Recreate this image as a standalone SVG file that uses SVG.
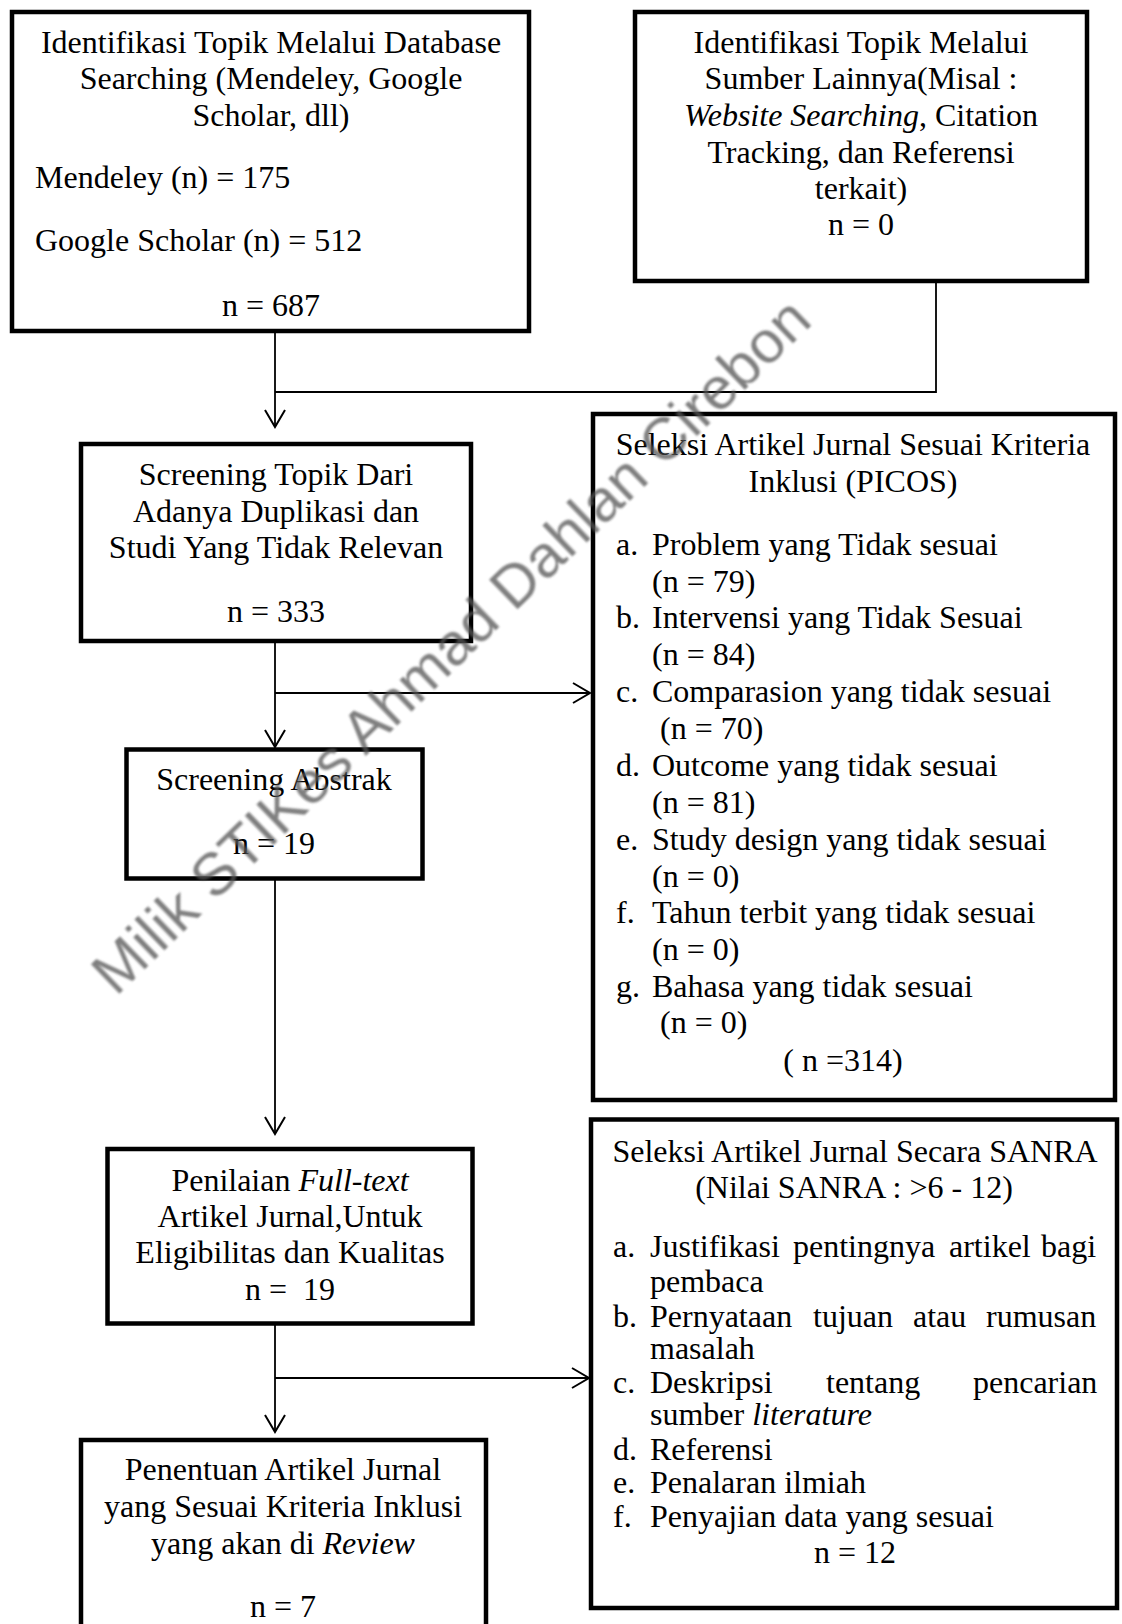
<svg xmlns="http://www.w3.org/2000/svg" width="1122" height="1624" viewBox="0 0 1122 1624">
<defs>
<style>
.box{fill:#fff;stroke:#000;stroke-width:4.5}
.t{font-family:"Liberation Serif","Times New Roman",serif;font-size:32px;fill:#000}
.c{text-anchor:middle}
.conn{fill:none;stroke:#000;stroke-width:1.8}
.wm{font-family:"Liberation Sans",Arial,sans-serif;font-size:60px;fill:#555;opacity:0.75;text-anchor:middle}
</style>
<marker id="arr" viewBox="0 0 20 22" refX="18" refY="11" markerWidth="20" markerHeight="22" markerUnits="userSpaceOnUse" orient="auto">
<path d="M1,1 L18,11 L1,21" fill="none" stroke="#000" stroke-width="2"/>
</marker>
<filter id="soft" x="-5%" y="-5%" width="110%" height="110%"><feGaussianBlur stdDeviation="1.1"/></filter>
</defs>
<rect width="1122" height="1624" fill="#fff"/>

<g id="n1">
<rect class="box" x="12" y="12" width="517" height="319"/>
<text class="t c" x="271" y="53">Identifikasi Topik Melalui Database</text>
<text class="t c" x="271" y="89">Searching (Mendeley, Google</text>
<text class="t c" x="271" y="126">Scholar, dll)</text>
<text class="t" x="35" y="188">Mendeley (n) = 175</text>
<text class="t" x="35" y="251">Google Scholar (n) = 512</text>
<text class="t c" x="271" y="316">n = 687</text>
</g>

<g id="n2">
<rect class="box" x="635" y="12" width="452" height="269"/>
<text class="t c" x="861" y="53">Identifikasi Topik Melalui</text>
<text class="t c" x="861" y="89">Sumber Lainnya(Misal :</text>
<text class="t c" x="861" y="126"><tspan font-style="italic">Website Searching</tspan>, Citation</text>
<text class="t c" x="861" y="163">Tracking, dan Referensi</text>
<text class="t c" x="861" y="199">terkait)</text>
<text class="t c" x="861" y="235">n = 0</text>
</g>

<g id="n3">
<rect class="box" x="81" y="444" width="390" height="197"/>
<text class="t c" x="276" y="485">Screening Topik Dari</text>
<text class="t c" x="276" y="522">Adanya Duplikasi dan</text>
<text class="t c" x="276" y="558">Studi Yang Tidak Relevan</text>
<text class="t c" x="276" y="622">n = 333</text>
</g>

<g id="n4">
<rect class="box" x="593" y="414" width="522" height="686"/>
<text class="t c" x="853" y="455">Seleksi Artikel Jurnal Sesuai Kriteria</text>
<text class="t c" x="853" y="492">Inklusi (PICOS)</text>
<text class="t" x="616" y="555">a.</text><text class="t" x="652" y="555">Problem yang Tidak sesuai</text>
<text class="t" x="652" y="592">(n = 79)</text>
<text class="t" x="616" y="628">b.</text><text class="t" x="652" y="628">Intervensi yang Tidak Sesuai</text>
<text class="t" x="652" y="665">(n = 84)</text>
<text class="t" x="616" y="702">c.</text><text class="t" x="652" y="702">Comparasion yang tidak sesuai</text>
<text class="t" x="660" y="739">(n = 70)</text>
<text class="t" x="616" y="776">d.</text><text class="t" x="652" y="776">Outcome yang tidak sesuai</text>
<text class="t" x="652" y="813">(n = 81)</text>
<text class="t" x="616" y="850">e.</text><text class="t" x="652" y="850">Study design yang tidak sesuai</text>
<text class="t" x="652" y="887">(n = 0)</text>
<text class="t" x="616" y="923">f.</text><text class="t" x="652" y="923">Tahun terbit yang tidak sesuai</text>
<text class="t" x="652" y="960">(n = 0)</text>
<text class="t" x="616" y="997">g.</text><text class="t" x="652" y="997">Bahasa yang tidak sesuai</text>
<text class="t" x="660" y="1033">(n = 0)</text>
<text class="t c" x="843" y="1071">( n =314)</text>
</g>

<g id="n5">
<rect class="box" x="126.5" y="749.5" width="296" height="129"/>
<text class="t c" x="274" y="790">Screening Abstrak</text>
<text class="t c" x="274" y="854">n = 19</text>
</g>

<g id="n6">
<rect class="box" x="107.5" y="1149" width="365" height="174.5"/>
<text class="t c" x="290" y="1191">Penilaian <tspan font-style="italic">Full-text</tspan></text>
<text class="t c" x="290" y="1227">Artikel Jurnal,Untuk</text>
<text class="t c" x="290" y="1263">Eligibilitas dan Kualitas</text>
<text class="t c" x="290" y="1300" xml:space="preserve">n =  19</text>
</g>

<g id="n7">
<rect class="box" x="591" y="1119.5" width="526" height="488.5"/>
<text class="t c" x="855" y="1162">Seleksi Artikel Jurnal Secara SANRA</text>
<text class="t c" x="854" y="1198">(Nilai SANRA : &gt;6 - 12)</text>
<text class="t" x="613" y="1257">a.</text>
<text class="t" y="1257"><tspan x="650">Justifikasi</tspan><tspan x="793">pentingnya</tspan><tspan x="949">artikel</tspan><tspan x="1041">bagi</tspan></text>
<text class="t" x="650" y="1292">pembaca</text>
<text class="t" x="613" y="1327">b.</text>
<text class="t" y="1327"><tspan x="650">Pernyataan</tspan><tspan x="813">tujuan</tspan><tspan x="913">atau</tspan><tspan x="986">rumusan</tspan></text>
<text class="t" x="650" y="1359">masalah</text>
<text class="t" x="613" y="1393">c.</text>
<text class="t" y="1393"><tspan x="650">Deskripsi</tspan><tspan x="826">tentang</tspan><tspan x="973">pencarian</tspan></text>
<text class="t" x="650" y="1425">sumber <tspan font-style="italic">literature</tspan></text>
<text class="t" x="613" y="1460">d.</text><text class="t" x="650" y="1460">Referensi</text>
<text class="t" x="613" y="1493">e.</text><text class="t" x="650" y="1493">Penalaran ilmiah</text>
<text class="t" x="613" y="1527">f.</text><text class="t" x="650" y="1527">Penyajian data yang sesuai</text>
<text class="t c" x="855" y="1563">n = 12</text>
</g>

<g id="n8">
<rect class="box" x="81" y="1440" width="405" height="250"/>
<text class="t c" x="283" y="1480">Penentuan Artikel Jurnal</text>
<text class="t c" x="283" y="1517">yang Sesuai Kriteria Inklusi</text>
<text class="t c" x="283" y="1554">yang akan di <tspan font-style="italic">Review</tspan></text>
<text class="t c" x="283" y="1617">n = 7</text>
</g>

<g id="connectors">
<path class="conn" d="M275,333 V427" marker-end="url(#arr)"/>
<path class="conn" d="M936,281 V392 H275"/>
<path class="conn" d="M275,641 V747" marker-end="url(#arr)"/>
<path class="conn" d="M275,693 H590" marker-end="url(#arr)"/>
<path class="conn" d="M275,878 V1134" marker-end="url(#arr)"/>
<path class="conn" d="M275,1323 V1432" marker-end="url(#arr)"/>
<path class="conn" d="M275,1378 H589" marker-end="url(#arr)"/>
</g>

<g id="watermark">
<text class="wm" x="465" y="660" transform="rotate(-44 465 660)" filter="url(#soft)">Milik STIKes Ahmad Dahlan Cirebon</text>
</g>
</svg>
